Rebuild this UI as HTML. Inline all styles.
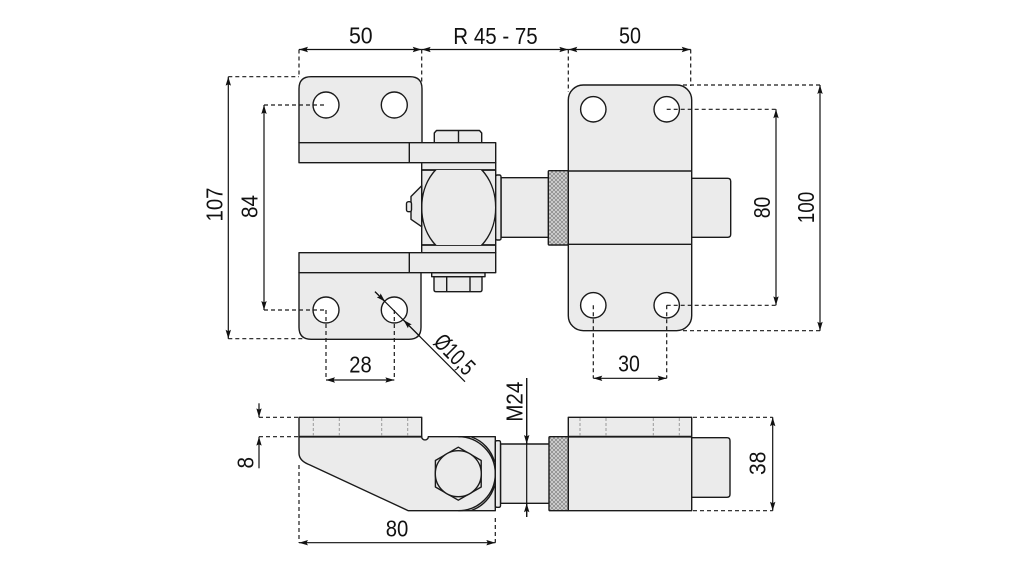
<!DOCTYPE html>
<html><head><meta charset="utf-8"><style>
html,body{margin:0;padding:0;background:#fff;}
svg{display:block;}
text{font-family:"Liberation Sans",sans-serif;font-size:23.5px;fill:#111;}
</style></head><body>
<svg width="1022" height="567" viewBox="0 0 1022 567" xmlns="http://www.w3.org/2000/svg">
<defs>
<marker id="a" viewBox="0 0 9 6" refX="9" refY="3" markerWidth="9" markerHeight="6" orient="auto-start-reverse" markerUnits="userSpaceOnUse"><path d="M0,0.3 L9,3 L0,5.7 L1.5,3 Z" fill="#111"/></marker>
<pattern id="k" width="4" height="4" patternUnits="userSpaceOnUse"><rect width="4" height="4" fill="#d8d8d8"/><path d="M0,0 L4,4 M4,0 L0,4" stroke="#8a8a8a" stroke-width="0.8"/></pattern>
<clipPath id="bc"><rect x="421.7" y="170" width="74" height="75"/></clipPath>
</defs>

<g fill="#ebebeb" stroke="#1a1a1a" stroke-width="1.4" stroke-linejoin="round">
<path d="M434.3,142.7 L434.3,133 L436.5,130.5 L479.5,130.5 L481.7,133 L481.7,142.7 Z"/>
<line x1="458.5" y1="130.5" x2="458.5" y2="142.7"/>
<path d="M299,142.7 L299,88.7 Q299,76.7 311,76.7 L410,76.7 Q422,76.7 422,88.7 L422,142.7 Z"/>
<rect x="299" y="142.7" width="196.7" height="20"/>
<line x1="409.3" y1="142.7" x2="409.3" y2="162.7"/>
<path d="M434,276.7 L434,289.5 Q434,291.7 436,291.7 L480,291.7 Q482,291.7 482,289.5 L482,276.7 Z"/>
<rect x="431.7" y="272.7" width="53.3" height="4"/>
<line x1="446.7" y1="276.7" x2="446.7" y2="291.7"/>
<line x1="470" y1="276.7" x2="470" y2="291.7"/>
<rect x="421.7" y="162.7" width="74" height="90"/>
<line x1="421.7" y1="170" x2="495.7" y2="170" stroke-width="1.8"/>
<line x1="421.7" y1="245" x2="495.7" y2="245" stroke-width="1.8"/>
<ellipse cx="458.7" cy="207.5" rx="37" ry="48" clip-path="url(#bc)" fill="#ebebeb"/>
<rect x="299" y="252.7" width="196.7" height="20"/>
<line x1="409.3" y1="252.7" x2="409.3" y2="272.7"/>
<path d="M299,272.7 L421,272.7 L421,327.3 Q421,339.3 409,339.3 L311,339.3 Q299,339.3 299,327.3 Z"/>
<path d="M421.7,185.7 L411,196.5 L411,219.3 L421.7,226.7 Z"/>
<rect x="406.5" y="201.7" width="5" height="10" rx="2"/>
<rect x="501" y="177.7" width="48.3" height="59.6"/>
<rect x="495.7" y="175" width="5.3" height="65" rx="1.5"/>
<path d="M690,178.3 L727.7,178.3 Q730.7,178.3 730.7,181.3 L730.7,234.3 Q730.7,237.3 727.7,237.3 L690,237.3 Z"/>
<rect x="568.3" y="85" width="123.4" height="245.7" rx="15"/>
<line x1="568.3" y1="171" x2="691.7" y2="171"/>
<line x1="568.3" y1="244.3" x2="691.7" y2="244.3"/>
<rect x="548.3" y="170.7" width="20" height="74.3" fill="url(#k)" rx="1"/>
<g fill="#fff">
<circle cx="326" cy="105" r="13"/>
<circle cx="394.3" cy="105" r="13"/>
<circle cx="326" cy="310" r="13"/>
<circle cx="394.3" cy="310" r="13"/>
<circle cx="593.3" cy="109.3" r="12.7"/>
<circle cx="666.7" cy="109.3" r="12.7"/>
<circle cx="593.3" cy="305.3" r="12.7"/>
<circle cx="666.7" cy="305.3" r="12.7"/>
</g>

<rect x="299" y="417.3" width="122.7" height="19.4"/>
<path d="M299,436.7 L421.7,436.7 A3.3,3.3 0 0 0 428.3,436.7 L495.3,436.7 L495.3,510.7 L408.3,510.7 L310,465 Q299,461 299,453.3 Z"/>
<line x1="299" y1="436.7" x2="421.7" y2="436.7" stroke-width="1.8"/>
<path d="M458.3,436.7 A37,37 0 0 1 458.3,510.7" fill="none"/>
<path d="M471.5,437 A36,36 0 0 1 494.5,462" fill="none"/>
<path d="M471.5,510.4 A36,36 0 0 0 494.5,485.4" fill="none"/>
<polygon points="458.3,447.2 481.2,460.5 481.2,487 458.3,500.2 435.4,487 435.4,460.5"/>
<circle cx="458.3" cy="473.7" r="23"/>
<rect x="500.5" y="444" width="48.8" height="59.3"/>
<rect x="495.3" y="440.7" width="5.2" height="66.6" rx="1.5"/>
<path d="M690,437.7 L727,437.7 Q730,437.7 730,440.7 L730,494.3 Q730,497.3 727,497.3 L690,497.3 Z"/>
<rect x="568.3" y="417.3" width="123.4" height="93.4"/>
<line x1="568.3" y1="436.7" x2="691.7" y2="436.7" stroke-width="1.8"/>
<rect x="549" y="436.7" width="19.3" height="74" fill="url(#k)" rx="1"/>
</g>

<g stroke="#9a9a9a" stroke-width="1" stroke-dasharray="3 2" fill="none">
<line x1="313.3" y1="418" x2="313.3" y2="436"/>
<line x1="339.3" y1="418" x2="339.3" y2="436"/>
<line x1="381.7" y1="418" x2="381.7" y2="436"/>
<line x1="407.7" y1="418" x2="407.7" y2="436"/>
<line x1="580" y1="418" x2="580" y2="436"/>
<line x1="606" y1="418" x2="606" y2="436"/>
<line x1="653.3" y1="418" x2="653.3" y2="436"/>
<line x1="679.3" y1="418" x2="679.3" y2="436"/>
</g>

<g stroke="#1a1a1a" stroke-width="1.2" stroke-dasharray="4 3" fill="none">
<line x1="299" y1="49.5" x2="299" y2="76"/>
<line x1="421.7" y1="49.5" x2="421.7" y2="82"/>
<line x1="568.3" y1="49.5" x2="568.3" y2="92"/>
<line x1="690.7" y1="49.5" x2="690.7" y2="86"/>
<line x1="228.3" y1="76.7" x2="299" y2="76.7"/>
<line x1="228.3" y1="338.7" x2="305" y2="338.7"/>
<line x1="264" y1="105" x2="326" y2="105"/>
<line x1="264" y1="310" x2="326" y2="310"/>
<line x1="326" y1="310" x2="326" y2="380"/>
<line x1="394.3" y1="310" x2="394.3" y2="380"/>
<line x1="683" y1="85" x2="820" y2="85"/>
<line x1="683" y1="330.7" x2="820" y2="330.7"/>
<line x1="666.7" y1="109.3" x2="776" y2="109.3"/>
<line x1="666.7" y1="305.3" x2="776" y2="305.3"/>
<line x1="593.3" y1="305.3" x2="593.3" y2="378.3"/>
<line x1="666.7" y1="305.3" x2="666.7" y2="378.3"/>
<line x1="259" y1="417.3" x2="299" y2="417.3"/>
<line x1="259" y1="436.7" x2="299" y2="436.7"/>
<line x1="299" y1="465" x2="299" y2="542.7"/>
<line x1="495.3" y1="518" x2="495.3" y2="542.7"/>
<line x1="693" y1="417.3" x2="772.7" y2="417.3"/>
<line x1="693" y1="510.7" x2="772.7" y2="510.7"/>
</g>

<g stroke="#111" stroke-width="1.2" fill="none">
<line x1="299" y1="49.5" x2="421.7" y2="49.5" marker-start="url(#a)" marker-end="url(#a)"/>
<line x1="421.7" y1="49.5" x2="568.3" y2="49.5" marker-start="url(#a)" marker-end="url(#a)"/>
<line x1="568.3" y1="49.5" x2="690.7" y2="49.5" marker-start="url(#a)" marker-end="url(#a)"/>
<line x1="228.3" y1="76.7" x2="228.3" y2="338.7" marker-start="url(#a)" marker-end="url(#a)"/>
<line x1="264" y1="105" x2="264" y2="310" marker-start="url(#a)" marker-end="url(#a)"/>
<line x1="326" y1="380" x2="394.3" y2="380" marker-start="url(#a)" marker-end="url(#a)"/>
<line x1="593.3" y1="378.3" x2="666.7" y2="378.3" marker-start="url(#a)" marker-end="url(#a)"/>
<line x1="776" y1="109.3" x2="776" y2="305.3" marker-start="url(#a)" marker-end="url(#a)"/>
<line x1="820" y1="85" x2="820" y2="330.7" marker-start="url(#a)" marker-end="url(#a)"/>
<line x1="375" y1="291.7" x2="465" y2="381.7"/>
<line x1="375" y1="291.7" x2="385.1" y2="301.6" marker-end="url(#a)"/>
<line x1="420" y1="336.5" x2="403.5" y2="320" marker-end="url(#a)"/>
<line x1="299" y1="542.7" x2="495.3" y2="542.7" marker-start="url(#a)" marker-end="url(#a)"/>
<line x1="772.7" y1="417.3" x2="772.7" y2="510.7" marker-start="url(#a)" marker-end="url(#a)"/>
<line x1="259" y1="403.3" x2="259" y2="417.3" marker-end="url(#a)"/>
<line x1="259" y1="468.3" x2="259" y2="436.7" marker-end="url(#a)"/>
<line x1="526.7" y1="378" x2="526.7" y2="517"/>
<line x1="526.7" y1="378" x2="526.7" y2="444" marker-end="url(#a)"/>
<line x1="526.7" y1="517" x2="526.7" y2="503.3" marker-end="url(#a)"/>
</g>

<text x="360.8" y="43.3" text-anchor="middle" textLength="23.7" lengthAdjust="spacingAndGlyphs">50</text>
<text x="495.5" y="44" text-anchor="middle" textLength="84.4" lengthAdjust="spacingAndGlyphs">R 45 - 75</text>
<text x="630" y="43.3" text-anchor="middle" textLength="22" lengthAdjust="spacingAndGlyphs">50</text>
<text x="360.5" y="372.7" text-anchor="middle" textLength="22.4" lengthAdjust="spacingAndGlyphs">28</text>
<text x="629" y="371.7" text-anchor="middle" textLength="21.7" lengthAdjust="spacingAndGlyphs">30</text>
<text x="397" y="536.7" text-anchor="middle" textLength="22.6" lengthAdjust="spacingAndGlyphs">80</text>
<text transform="translate(214,204.5) rotate(-90)" x="0" y="8.5" text-anchor="middle" textLength="34" lengthAdjust="spacingAndGlyphs">107</text>
<text transform="translate(249.2,206.5) rotate(-90)" x="0" y="8.5" text-anchor="middle" textLength="23" lengthAdjust="spacingAndGlyphs">84</text>
<text transform="translate(761.7,207.5) rotate(-90)" x="0" y="8.5" text-anchor="middle" textLength="21.6" lengthAdjust="spacingAndGlyphs">80</text>
<text transform="translate(805.3,207.5) rotate(-90)" x="0" y="8.5" text-anchor="middle" textLength="31.6" lengthAdjust="spacingAndGlyphs">100</text>
<text transform="translate(757,463.3) rotate(-90)" x="0" y="8.5" text-anchor="middle" textLength="23.3" lengthAdjust="spacingAndGlyphs">38</text>
<text transform="translate(513.8,401.7) rotate(-90)" x="0" y="8.5" text-anchor="middle" textLength="40" lengthAdjust="spacingAndGlyphs">M24</text>
<text transform="translate(245,462.8) rotate(-90)" x="0" y="8.5" text-anchor="middle" textLength="11.5" lengthAdjust="spacingAndGlyphs">8</text>
<text transform="translate(455,354) rotate(45)" x="0" y="8.5" text-anchor="middle" textLength="47" lengthAdjust="spacingAndGlyphs">Ø10,5</text>
</svg>
</body></html>
